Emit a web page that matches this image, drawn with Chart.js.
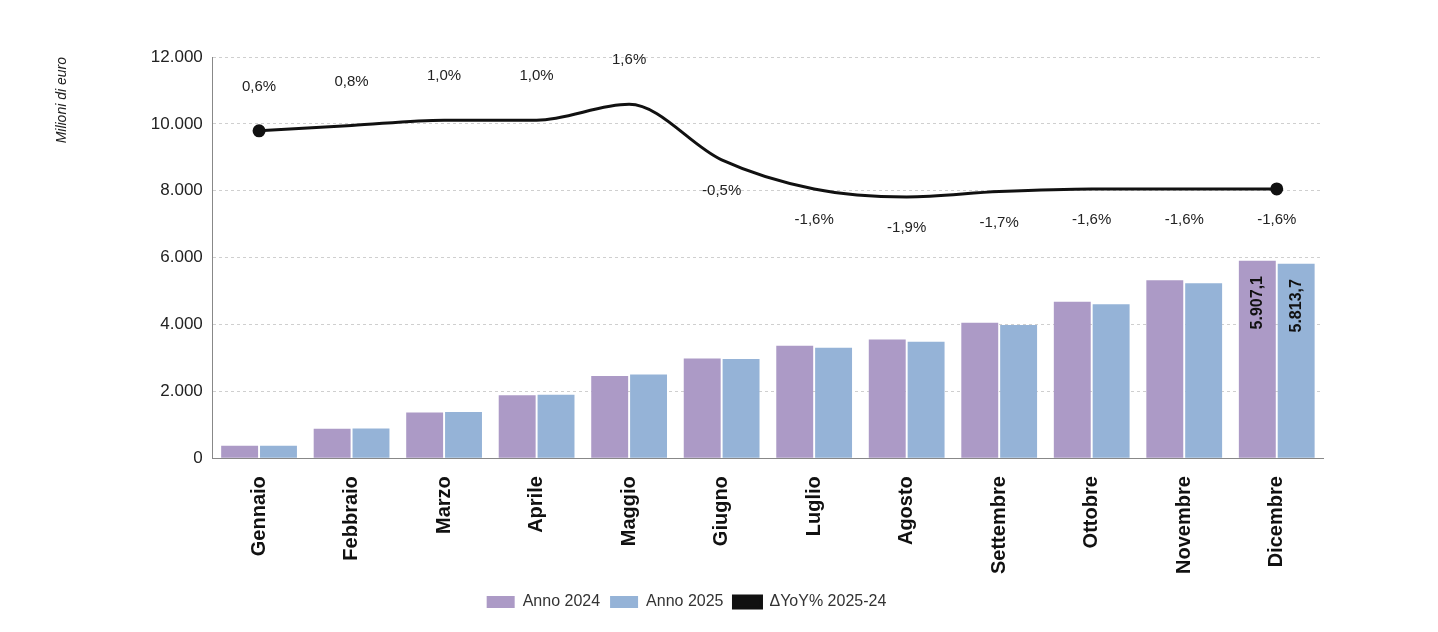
<!DOCTYPE html>
<html lang="it">
<head>
<meta charset="UTF-8" />
<title>Ricavi</title>
<script src="https://cdn.jsdelivr.net/npm/chart.js"></script>
<style>
  body { margin: 0; background: #fff; }
  .chart-container { position: relative; width: 1438px; height: 632px; }
</style>
</head>
<body>
<div class="chart-container"><canvas id="chart"></canvas></div>
<script>
const mesi = ['Gennaio','Febbraio','Marzo','Aprile','Maggio','Giugno','Luglio','Agosto','Settembre','Ottobre','Novembre','Dicembre'];
const anno2024 = [370, 880, 1370, 1880, 2460, 2980, 3360, 3550, 4050, 4680, 5320, 5907.1];
const anno2025 = [372, 887, 1384, 1899, 2500, 2965, 3307, 3483, 3981, 4605, 5235, 5813.7];
const yoy = [0.6, 0.8, 1.0, 1.0, 1.6, -0.5, -1.6, -1.9, -1.7, -1.6, -1.6, -1.6];

const fmtIt = (v, d) => v.toLocaleString('it-IT', { minimumFractionDigits: d, maximumFractionDigits: d });
const FONT = '"Liberation Sans", Arial, sans-serif';

const labelsPlugin = {
  id: 'labels',
  afterDatasetsDraw(chart) {
    const ctx = chart.ctx;
    ctx.save();
    ctx.font = '15px ' + FONT;
    ctx.fillStyle = '#222';
    ctx.textAlign = 'center';
    ctx.textBaseline = 'middle';
    chart.getDatasetMeta(2).data.forEach((p, i) => {
      const off = yoy[i] >= 0 ? -44 : 31;
      ctx.fillText(fmtIt(yoy[i], 1) + '%', p.x, p.y + off);
    });
    ctx.font = 'bold 16px ' + FONT;
    ctx.fillStyle = '#111';
    [0, 1].forEach(ds => {
      const bar = chart.getDatasetMeta(ds).data[11];
      const v = ds === 0 ? anno2024[11] : anno2025[11];
      ctx.save();
      ctx.translate(bar.x, bar.y + 42);
      ctx.rotate(-Math.PI / 2);
      ctx.fillText(fmtIt(v, 1), 0, 0);
      ctx.restore();
    });
    ctx.restore();
  }
};

new Chart(document.getElementById('chart'), {
  data: {
    labels: mesi,
    datasets: [
      { type: 'bar', label: 'Anno 2024', data: anno2024, backgroundColor: '#ac9ac6', yAxisID: 'y', order: 2, categoryPercentage: 0.84, barPercentage: 0.95 },
      { type: 'bar', label: 'Anno 2025', data: anno2025, backgroundColor: '#95b3d7', yAxisID: 'y', order: 2, categoryPercentage: 0.84, barPercentage: 0.95 },
      { type: 'line', label: '\u0394YoY% 2025-24', data: yoy, yAxisID: 'y1', order: 1,
        borderColor: '#111', backgroundColor: '#111', borderWidth: 3,
        cubicInterpolationMode: 'monotone',
        pointRadius: yoy.map((v, i) => (i === 0 || i === yoy.length - 1) ? 5 : 0) }
    ]
  },
  options: {
    responsive: true,
    maintainAspectRatio: false,
    animation: false,
    layout: { padding: { left: 50, right: 115, top: 57, bottom: 12 } },
    plugins: {
      tooltip: { enabled: false },
      legend: {
        position: 'bottom',
        labels: {
          font: { size: 16, family: FONT }, color: '#333', boxWidth: 28, boxHeight: 12,
          sort: (a, b) => a.datasetIndex - b.datasetIndex
        }
      }
    },
    scales: {
      x: {
        grid: { display: false },
        border: { color: '#888' },
        ticks: { maxRotation: 90, minRotation: 90, padding: 10, color: '#111', font: { size: 20, weight: 'bold', family: FONT } }
      },
      y: {
        min: 0, max: 12000,
        ticks: { stepSize: 2000, padding: 10, color: '#222', font: { size: 17, family: FONT }, callback: v => fmtIt(v, 0) },
        grid: { color: '#cfcfcf', drawTicks: false },
        border: { display: true, color: '#888', dash: [3, 3] },
        title: { display: true, text: 'Milioni di euro', align: 'end', font: { size: 14, style: 'italic', family: FONT }, color: '#222', padding: { bottom: 70 } }
      },
      y1: { display: false, min: -11.78, max: 3.39 }
    }
  },
  plugins: [labelsPlugin]
});
</script>
</body>
</html>
